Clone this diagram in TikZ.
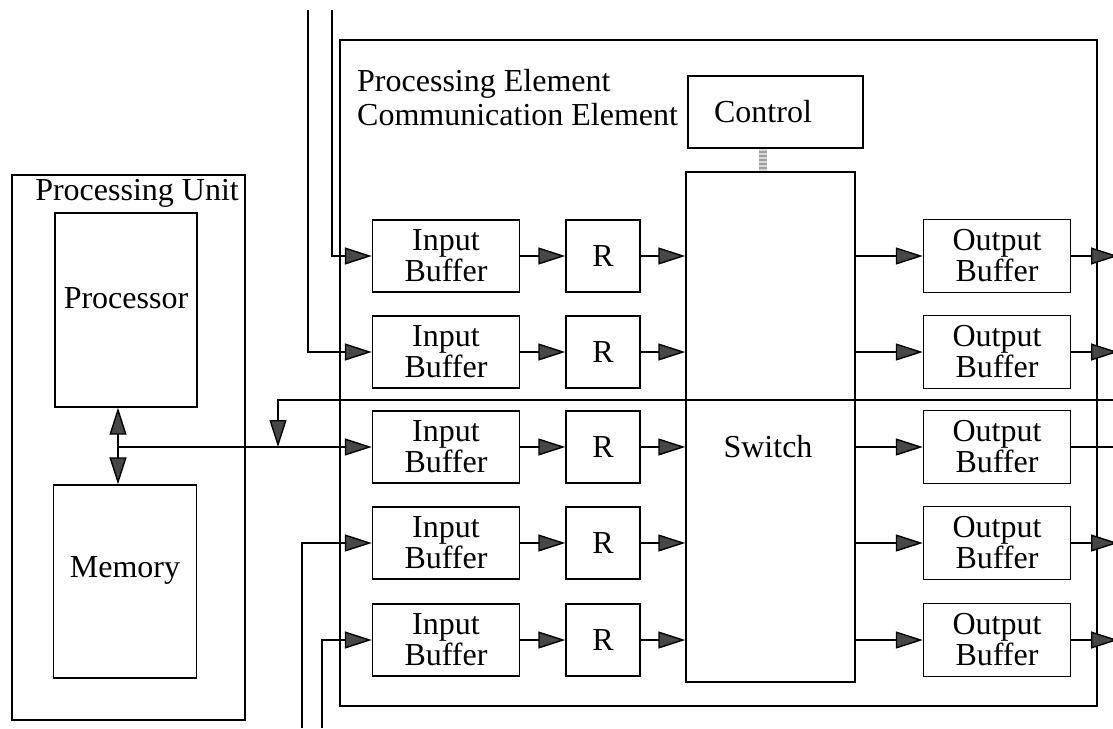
\documentclass[tikz,border=0pt]{standalone}
\usepackage{fontspec}
\setmainfont{Liberation Serif}
\usetikzlibrary{arrows.meta}
\begin{document}
\begin{tikzpicture}[x=1pt,y=-1pt,
  every node/.style={font=\fontsize{32}{31}\selectfont, inner sep=0pt},
  blk/.style={draw, line width=1.4pt, align=center},
  wire/.style={line width=1.4pt},
  >={Triangle[length=27pt,width=17pt,fill=black!72]},
  flow/.style={wire,->},
  ctrllink/.style={line width=8pt, draw=gray!75}]
\clip (0,0) rectangle (1113,728);
\fill[white] (0,0) rectangle (1113,728);

% processing unit with processor and memory
\node[blk, minimum width=233pt, minimum height=545pt] (pu) at (128.5,447.5) {};
\node[anchor=base east] (pulbl) at (239,200) {Processing Unit};
\node[blk, minimum width=142pt, minimum height=194pt] (proc) at (126,310) {};
\node (proctxt) at ([yshift=12pt]proc.center) {Processor};
\node[blk, minimum width=143pt, minimum height=193pt] (mem) at (125,581.5) {};
\node (memtxt) at ([yshift=11pt]mem.center) {Memory};

% communication element
\node[blk, minimum width=757pt, minimum height=666pt] (pe) at (718.5,373) {};
\node[anchor=base west] (pel1) at (357,91) {Processing Element};
\node[anchor=base west] (pel2) at (357,125) {Communication Element};
\node[blk, minimum width=175pt, minimum height=72pt] (ctrl) at (775.5,112) {};
\node (ctrltxt) at (763,112) {Control};
\node[blk, minimum width=169pt, minimum height=510pt] (sw) at (770.5,427) {};
\node (swtxt) at (768,447) {Switch};

% control link (braided cable)
\coordinate (link) at (763,0);
\draw[ctrllink] (ctrl.south -| link) -- (sw.north -| link);
\draw[line width=8pt, draw=gray!30, dash pattern=on 2pt off 2pt] (ctrl.south -| link) -- (sw.north -| link);

% buffer rows
\coordinate (edge) at (1118,0);
\coordinate (rim) at (1113,0);
\foreach \i/\y in {1/256,2/352,3/447,4/543,5/640} {
  \node[blk, minimum width=147pt, minimum height=72pt] (ib\i) at (446,\y) {Input\\Buffer};
  \node[blk, minimum width=74pt, minimum height=72pt] (r\i) at (603,\y) {R};
  \node[blk, minimum width=147pt, minimum height=73pt] (ob\i) at (997,\y) {Output\\Buffer};
  \draw[flow] (ib\i) -- (r\i);
  \draw[flow] (r\i) -- (sw.west |- r\i);
  \draw[flow] (sw.east |- ob\i) -- (ob\i);
}
\foreach \i in {1,2,4,5} \draw[flow] (ob\i.east) -- (ob\i.east -| edge);
\draw[wire] (ob3.east) -- (ob3.east -| rim);

% incoming links
\coordinate (inA) at (308,10);
\coordinate (inB) at (332,10);
\coordinate (inC) at (302,728);
\coordinate (inD) at (322,728);
\draw[flow] (inB) |- (ib1.west);
\draw[flow] (inA) |- (ib2.west);
\draw[flow] (inC) |- (ib4.west);
\draw[flow] (inD) |- (ib5.west);

% processor / memory bus
\coordinate (bus) at (118,447);
\draw[wire,<->] (proc.south -| bus) -- (mem.north -| bus);
\draw[flow] (bus) -- (ib3.west);

% feedback into the bus
\coordinate (fbin) at (1113,400);
\coordinate (fbtip) at (278,447);
\draw[flow] (fbin) -| (fbtip);
\end{tikzpicture}
\end{document}
